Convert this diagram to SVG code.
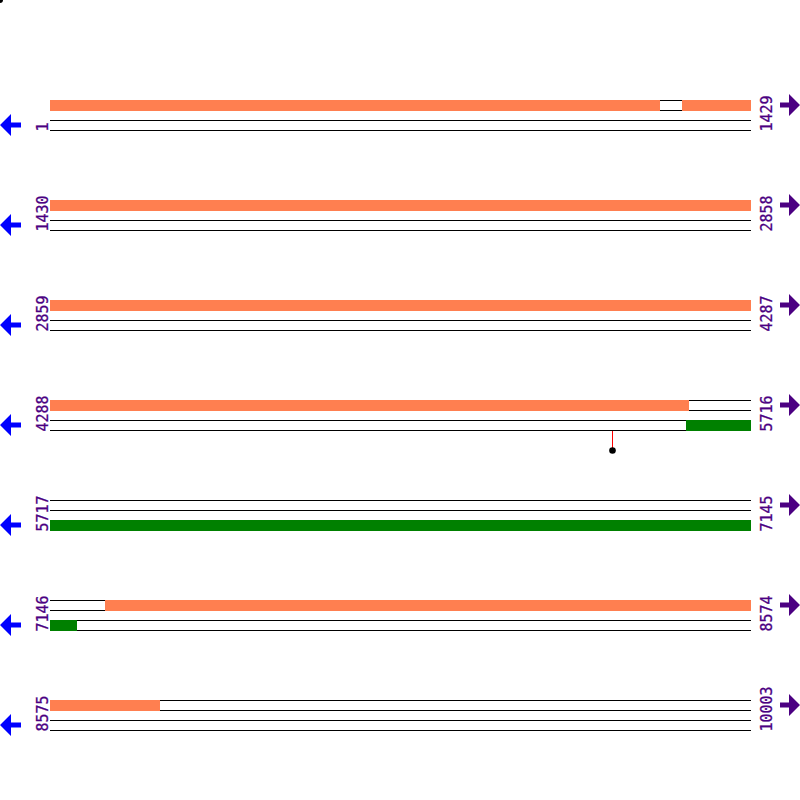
<svg xmlns="http://www.w3.org/2000/svg" width="800" height="800" viewBox="0 0 800 800">
<style>
.ln{stroke:#000;stroke-width:1;fill:none}
.or{fill:#FF7F50}
.gr{fill:#008000}
.lbl{font-family:"DejaVu Sans Mono","Liberation Mono",monospace;font-size:15px;fill:#4B0082;stroke:#4B0082;stroke-width:0.3}
.la{fill:#0000FF}
.ra{fill:#4B0082}
</style>
<defs>
<g id="lines">
<line class="ln" x1="50" y1="100.5" x2="751" y2="100.5"/>
<line class="ln" x1="50" y1="110.5" x2="751" y2="110.5"/>
<line class="ln" x1="50" y1="120.5" x2="751" y2="120.5"/>
<line class="ln" x1="50" y1="130.5" x2="751" y2="130.5"/>
</g>
<polygon id="larr" class="la" points="0,125 11,114 11,122.5 21,122.5 21,127.5 11,127.5 11,136"/>
<polygon id="rarr" class="ra" points="800,105 789,94 789,102.5 780,102.5 780,107.5 789,107.5 789,116"/>
</defs>
<rect width="800" height="800" fill="#fff"/>
<circle cx="0" cy="0" r="3" fill="#000"/>

<g id="row1">
<use href="#lines"/>
<rect class="or" x="50" y="100" width="610" height="11"/>
<rect class="or" x="682" y="100" width="69" height="11"/>
<text class="lbl" transform="translate(47.5,131.5) rotate(-90)">1</text>
<text class="lbl" transform="translate(771.5,131.5) rotate(-90)">1429</text>
<use href="#larr"/><use href="#rarr"/>
</g>

<g id="row2" transform="translate(0,100)">
<use href="#lines"/>
<rect class="or" x="50" y="100" width="701" height="11"/>
<text class="lbl" transform="translate(47.5,131.5) rotate(-90)">1430</text>
<text class="lbl" transform="translate(771.5,131.5) rotate(-90)">2858</text>
<use href="#larr"/><use href="#rarr"/>
</g>

<g id="row3" transform="translate(0,200)">
<use href="#lines"/>
<rect class="or" x="50" y="100" width="701" height="11"/>
<text class="lbl" transform="translate(47.5,131.5) rotate(-90)">2859</text>
<text class="lbl" transform="translate(771.5,131.5) rotate(-90)">4287</text>
<use href="#larr"/><use href="#rarr"/>
</g>

<g id="row4" transform="translate(0,300)">
<use href="#lines"/>
<rect class="or" x="50" y="100" width="639" height="11"/>
<rect class="gr" x="686" y="120" width="65" height="11"/>
<text class="lbl" transform="translate(47.5,131.5) rotate(-90)">4288</text>
<text class="lbl" transform="translate(771.5,131.5) rotate(-90)">5716</text>
<use href="#larr"/><use href="#rarr"/>
</g>

<g id="row5" transform="translate(0,400)">
<use href="#lines"/>
<rect class="gr" x="50" y="120" width="701" height="11"/>
<text class="lbl" transform="translate(47.5,131.5) rotate(-90)">5717</text>
<text class="lbl" transform="translate(771.5,131.5) rotate(-90)">7145</text>
<use href="#larr"/><use href="#rarr"/>
</g>

<g id="row6" transform="translate(0,500)">
<use href="#lines"/>
<rect class="or" x="105" y="100" width="646" height="11"/>
<rect class="gr" x="50" y="120" width="27" height="11"/>
<text class="lbl" transform="translate(47.5,131.5) rotate(-90)">7146</text>
<text class="lbl" transform="translate(771.5,131.5) rotate(-90)">8574</text>
<use href="#larr"/><use href="#rarr"/>
</g>

<g id="row7" transform="translate(0,600)">
<use href="#lines"/>
<rect class="or" x="50" y="100" width="110" height="11"/>
<text class="lbl" transform="translate(47.5,131.5) rotate(-90)">8575</text>
<text class="lbl" transform="translate(771.5,131.5) rotate(-90)">10003</text>
<use href="#larr"/><use href="#rarr"/>
</g>

<g id="connectors">
<line x1="612.5" y1="431" x2="612.5" y2="449" stroke="#FF0000" stroke-width="1"/>
<circle cx="612.5" cy="450.5" r="3.3" fill="#000"/>
</g>
</svg>
